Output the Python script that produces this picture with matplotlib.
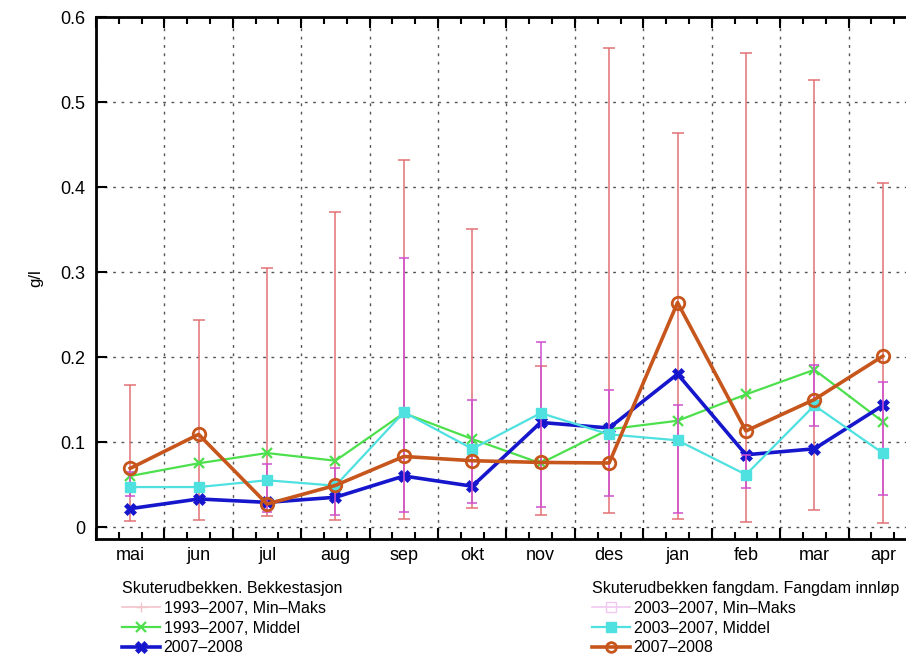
"""Suspended sediment concentration, Skuterudbekken, monthly."""

import numpy as np
import matplotlib

matplotlib.use("Agg")
import matplotlib.pyplot as plt
from matplotlib.lines import Line2D

plt.rcParams["font.family"] = ["Liberation Sans", "DejaVu Sans"]

MONTHS = ["mai", "jun", "jul", "aug", "sep", "okt", "nov", "des", "jan", "feb", "mar", "apr"]

# Bekkestasjon 1993-2007 min/max and mean, 2007-2008
bekk_min = [0.007, 0.008, 0.0125, 0.0086, 0.0094, 0.022, 0.0145, 0.017, 0.0098, 0.0055, 0.0196, 0.0047]
bekk_max = [0.167, 0.243, 0.305, 0.371, 0.432, 0.351, 0.189, 0.564, 0.463, 0.558, 0.526, 0.405]
bekk_mean = [0.060, 0.075, 0.087, 0.078, 0.134, 0.1035, 0.075, 0.115, 0.125, 0.156, 0.185, 0.124]
bekk_0708 = [0.0216, 0.033, 0.029, 0.035, 0.060, 0.048, 0.123, 0.1165, 0.180, 0.085, 0.092, 0.143]

# Fangdam innlop 2003-2007 min/max and mean, 2007-2008
fang_min = [0.036, np.nan, 0.018, 0.0145, 0.018, 0.028, 0.024, 0.036, 0.0165, 0.046, 0.119, 0.038]
fang_max = [0.065, np.nan, 0.074, 0.069, 0.317, 0.149, 0.218, 0.161, 0.143, 0.085, 0.191, 0.171]
fang_mean = [0.047, 0.047, 0.055, 0.0486, 0.135, 0.092, 0.134, 0.109, 0.102, 0.0616, 0.143, 0.087]
fang_0708 = [0.069, 0.109, 0.027, 0.049, 0.083, 0.078, 0.076, 0.0753, 0.264, 0.113, 0.150, 0.201]

RED = "#e27275"
MAGENTA = "#d04fd0"
GREEN = "#4ce04c"
CYAN = "#4fe0e0"
BLUE = "#1616cc"
ORANGE = "#c6561c"

x = np.arange(len(MONTHS))
bekk_min = np.array(bekk_min)
bekk_max = np.array(bekk_max)
fang_min = np.array(fang_min)
fang_max = np.array(fang_max)

fig = plt.figure(figsize=(9.06, 6.55), dpi=100)
ax = fig.add_axes([96 / 906, 116 / 655, 821 / 906, 522 / 655])

mid = (bekk_min + bekk_max) / 2
ax.errorbar(x, mid, yerr=[mid - bekk_min, bekk_max - mid], fmt="none", ecolor=RED,
            elinewidth=1.1, capsize=4, capthick=1.1, zorder=2)
ax.plot(x, bekk_mean, color=GREEN, lw=1.6, marker="x", ms=7, mew=1.6, zorder=3)
ax.plot(x, bekk_0708, color=BLUE, lw=2.6, marker="X", ms=9, mew=0.5, zorder=4)

mid = (fang_min + fang_max) / 2
ax.errorbar(x, mid, yerr=[mid - fang_min, fang_max - mid], fmt="none", ecolor=MAGENTA,
            elinewidth=1.1, capsize=3.5, capthick=1.1, zorder=5)
ax.plot(x, fang_mean, color=CYAN, lw=1.6, marker="s", ms=7, zorder=6)
ax.plot(x, fang_0708, color=ORANGE, lw=2.6, marker="o", ms=9, mfc="none", mew=2, zorder=7)

ax.set_xlim(-0.5, len(MONTHS) - 0.5)
ax.set_ylim(-0.0141, 0.6)
ax.set_yticks(np.arange(0, 0.61, 0.1))
ax.set_yticklabels(["0", "0.1", "0.2", "0.3", "0.4", "0.5", "0.6"])

bounds = np.arange(-0.5, len(MONTHS), 1.0)
thirds = np.arange(-0.5, len(MONTHS) - 0.4, 1 / 3)
ax.set_xticks(bounds)
ax.set_xticks(thirds, minor=True)
ax.tick_params(axis="x", which="both", direction="in", top=True, bottom=True,
               labelbottom=False, width=1.5)
ax.tick_params(axis="x", which="major", length=8)
ax.tick_params(axis="x", which="minor", length=5)
ax.tick_params(axis="y", direction="in", length=8, width=1.5, labelsize=13, pad=8)
ax.grid(True, which="major", color="#555555", linestyle=(0, (2, 4)), linewidth=1)

sec = ax.secondary_xaxis("bottom")
sec.set_xticks(x)
sec.set_xticklabels(MONTHS)
sec.tick_params(length=0, labelsize=13, pad=6)
sec.spines["bottom"].set_visible(False)

for side in ["left", "bottom", "top", "right"]:
    ax.spines[side].set_linewidth(2)

ax.set_ylabel("g/l", fontsize=12, labelpad=12)

h_left = [
    Line2D([], [], color="#f2c4ca", lw=1.2, marker="+", ms=7, mew=1),
    Line2D([], [], color=GREEN, lw=1.6, marker="x", ms=7, mew=1.6),
    Line2D([], [], color=BLUE, lw=2.6, marker="X", ms=9, mew=0.5),
]
h_right = [
    Line2D([], [], color="#f0c8f0", lw=1.2, marker="s", ms=7, mfc="none", mew=1),
    Line2D([], [], color=CYAN, lw=1.6, marker="s", ms=7),
    Line2D([], [], color=ORANGE, lw=2.6, marker="o", ms=7, mfc="none", mew=2),
]
leg_kw = dict(loc="upper left", frameon=False, borderpad=0, borderaxespad=0,
              handlelength=2.4, handletextpad=0.2, labelspacing=0.3,
              fontsize=11.5, title_fontsize=11.5, alignment="left")
fig.legend(h_left, ["1993–2007, Min–Maks", "1993–2007, Middel", "2007–2008"],
           title="Skuterudbekken. Bekkestasjon",
           bbox_to_anchor=(122 / 906, 1 - 581 / 655), **leg_kw)
fig.legend(h_right, ["2003–2007, Min–Maks", "2003–2007, Middel", "2007–2008"],
           title="Skuterudbekken fangdam. Fangdam innløp",
           bbox_to_anchor=(592 / 906, 1 - 581 / 655), **leg_kw)

fig.savefig("out.png", dpi=100)
